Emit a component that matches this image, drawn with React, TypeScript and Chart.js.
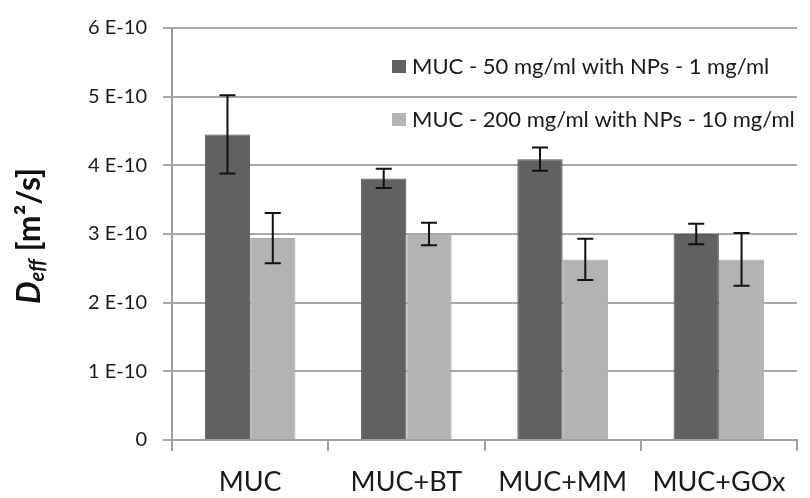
import React, { useEffect, useRef } from "react";
import { Chart, registerables } from "chart.js";

Chart.register(...registerables);

const categories = ["MUC", "MUC+BT", "MUC+MM", "MUC+GOx"];
const seriesNames = [
  "MUC - 50 mg/ml with NPs - 1 mg/ml",
  "MUC - 200 mg/ml with NPs - 10 mg/ml",
];
const series50 = [4.45e-10, 3.81e-10, 4.09e-10, 3.0e-10];
const err50 = [0.57e-10, 0.14e-10, 0.17e-10, 0.15e-10];
const series200 = [2.94e-10, 3.0e-10, 2.63e-10, 2.63e-10];
const err200 = [0.365e-10, 0.165e-10, 0.3e-10, 0.385e-10];
const yTicks = [0, 1e-10, 2e-10, 3e-10, 4e-10, 5e-10, 6e-10];

const DARK = "#616161";
const LIGHT = "#b3b3b3";
const FONT = "Lato, 'Open Sans', sans-serif";

const errorsByDataset = [err50, err200];

const errorBarPlugin = {
  id: "errorBars",
  afterDatasetsDraw(chart: any) {
    const ctx = chart.ctx;
    const y = chart.scales.y;
    ctx.save();
    ctx.strokeStyle = "#111";
    ctx.lineWidth = 2;
    chart.data.datasets.forEach((ds: any, di: number) => {
      const meta = chart.getDatasetMeta(di);
      meta.data.forEach((bar: any, i: number) => {
        const v = ds.data[i];
        const e = errorsByDataset[di][i];
        const yt = y.getPixelForValue(v + e);
        const yb = y.getPixelForValue(v - e);
        const x = bar.x;
        const half = 8;
        ctx.beginPath();
        ctx.moveTo(x, yt);
        ctx.lineTo(x, yb);
        ctx.moveTo(x - half, yt);
        ctx.lineTo(x + half, yt);
        ctx.moveTo(x - half, yb);
        ctx.lineTo(x + half, yb);
        ctx.stroke();
      });
    });
    ctx.restore();
  },
};

const legendAndTitlePlugin = {
  id: "customLegendTitle",
  afterDraw(chart: any) {
    const ctx = chart.ctx;
    ctx.save();
    // legend
    const items = [
      { name: seriesNames[0], color: DARK, y: 66 },
      { name: seriesNames[1], color: LIGHT, y: 119 },
    ];
    ctx.font = `22px ${FONT}`;
    ctx.textBaseline = "middle";
    ctx.textAlign = "left";
    items.forEach((it) => {
      ctx.fillStyle = it.color;
      ctx.fillRect(392, it.y - 6, 14, 13);
      ctx.fillStyle = "#1a1a1a";
      ctx.fillText(it.name, 412, it.y + 1);
    });
    // y axis title
    ctx.translate(30, 236);
    ctx.rotate(-Math.PI / 2);
    const fMain = `italic bold 32px ${FONT}`;
    const fSub = `italic bold 20px ${FONT}`;
    const fRest = `bold 32px ${FONT}`;
    const pD = "D";
    const pSub = "eff";
    const pRest = " [m²/s]";
    ctx.font = fMain;
    const wD = ctx.measureText(pD).width;
    ctx.font = fSub;
    const wS = ctx.measureText(pSub).width;
    ctx.font = fRest;
    const wR = ctx.measureText(pRest).width;
    const total = wD + wS + wR;
    let x = -total / 2;
    ctx.fillStyle = "#111";
    ctx.textBaseline = "middle";
    ctx.font = fMain;
    ctx.fillText(pD, x, 0);
    x += wD;
    ctx.font = fSub;
    ctx.fillText(pSub, x, 8);
    x += wS;
    ctx.font = fRest;
    ctx.fillText(pRest, x, 0);
    ctx.restore();
  },
};

export default function App() {
  const ref = useRef<HTMLCanvasElement>(null);
  useEffect(() => {
    document.body.style.margin = "0";
    if (!ref.current) return;
    const chart = new Chart(ref.current, {
      type: "bar",
      data: {
        labels: categories,
        datasets: [
          {
            label: seriesNames[0],
            data: series50,
            backgroundColor: DARK,
            borderColor: "#555",
            borderWidth: 1,
            categoryPercentage: 0.58,
            barPercentage: 1,
          },
          {
            label: seriesNames[1],
            data: series200,
            backgroundColor: LIGHT,
            borderColor: "#a8a8a8",
            borderWidth: 1,
            categoryPercentage: 0.58,
            barPercentage: 1,
          },
        ],
      },
      options: {
        responsive: false,
        animation: false,
        devicePixelRatio: 1,
        layout: { padding: { left: 0, right: 13, top: 28, bottom: 0 } },
        plugins: {
          legend: { display: false },
          tooltip: { enabled: false },
          title: { display: false },
        },
        scales: {
          x: {
            grid: {
              display: true,
              drawOnChartArea: false,
              drawTicks: true,
              tickLength: 11,
              color: "#a0a0a0",
              lineWidth: 2,
              offset: true,
            },
            border: { display: true, color: "#a0a0a0", width: 2 },
            ticks: {
              color: "#1a1a1a",
              font: { family: FONT, size: 27 },
              padding: 15,
              maxRotation: 0,
            },
            afterFit(scale: any) {
              scale.height = 58;
            },
          },
          y: {
            min: 0,
            max: 6e-10,
            afterBuildTicks(scale: any) {
              scale.ticks = yTicks.map((v) => ({ value: v }));
            },
            grid: {
              color: "#a8a8a8",
              lineWidth: 2,
              tickLength: 9,
            },
            border: { display: true, color: "#a0a0a0", width: 2 },
            ticks: {
              color: "#1a1a1a",
              font: { family: FONT, size: 20 },
              padding: 16,
              callback: (v: any) =>
                Number(v) === 0 ? "0" : `${Math.round(Number(v) / 1e-10)} E-10`,
            },
            afterFit(scale: any) {
              scale.width = 172;
            },
          },
        },
      },
      plugins: [errorBarPlugin, legendAndTitlePlugin],
    });
    return () => chart.destroy();
  }, []);
  return (
    <div style={{ position: "absolute", left: 0, top: 0, width: 810, height: 498 }}>
      <canvas ref={ref} width={810} height={498} />
    </div>
  );
}
